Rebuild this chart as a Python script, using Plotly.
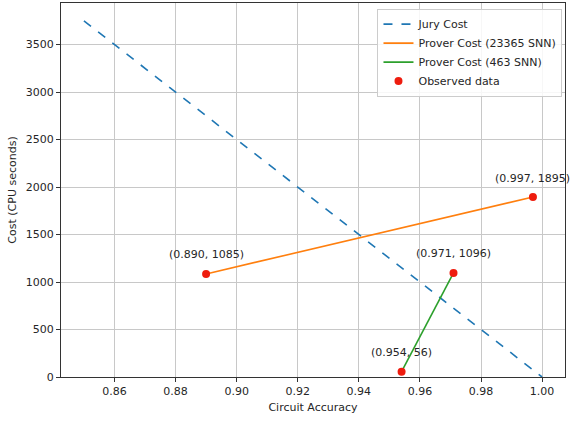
import plotly.graph_objects as go

# Data
jury_x = [0.85, 1.00]
jury_y = [3750, 0]
prover_big_x = [0.890, 0.997]
prover_big_y = [1085, 1895]
prover_small_x = [0.954, 0.971]
prover_small_y = [56, 1096]
obs_x = [0.890, 0.997, 0.954, 0.971]
obs_y = [1085, 1895, 56, 1096]
obs_labels = ["(0.890, 1085)", "(0.997, 1895)", "(0.954, 56)", "(0.971, 1096)"]
x_ticks = [0.86, 0.88, 0.90, 0.92, 0.94, 0.96, 0.98, 1.00]
y_ticks = [0, 500, 1000, 1500, 2000, 2500, 3000, 3500]

FONT = "DejaVu Sans"
TXT = "#262626"

fig = go.Figure()
fig.add_trace(go.Scatter(x=jury_x, y=jury_y, mode="lines", name="Jury Cost",
                         line=dict(color="#1f77b4", width=1.6, dash="dash")))
fig.add_trace(go.Scatter(x=prover_big_x, y=prover_big_y, mode="lines",
                         name="Prover Cost (23365 SNN)",
                         line=dict(color="#ff7f0e", width=1.6)))
fig.add_trace(go.Scatter(x=prover_small_x, y=prover_small_y, mode="lines",
                         name="Prover Cost (463 SNN)",
                         line=dict(color="#2ca02c", width=1.6)))
fig.add_trace(go.Scatter(x=obs_x, y=obs_y, mode="markers", name="Observed data",
                         marker=dict(color="#ee1c0e", size=8)))

for x, y, t in zip(obs_x, obs_y, obs_labels):
    fig.add_annotation(x=x, y=y, text=t, showarrow=False, yshift=19,
                       font=dict(family=FONT, size=11, color=TXT))

axis_common = dict(showline=True, linecolor="#333", linewidth=1, mirror=True,
                   showgrid=True, gridcolor="#c8c8c8", gridwidth=1,
                   ticks="outside", ticklen=4, tickcolor="#333",
                   tickfont=dict(family=FONT, size=11, color=TXT),
                   zeroline=False, automargin=False)

fig.update_xaxes(range=[0.8425, 1.0075], tickvals=x_ticks,
                 ticktext=[f"{v:.2f}" for v in x_ticks],
                 title=dict(text="Circuit Accuracy", standoff=6,
                            font=dict(family=FONT, size=11, color=TXT)),
                 **axis_common)
fig.update_yaxes(range=[0, 3937.5], tickvals=y_ticks,
                 title=dict(text="Cost (CPU seconds)", standoff=6,
                            font=dict(family=FONT, size=11, color=TXT)),
                 **axis_common)

fig.update_layout(
    width=570, height=421,
    margin=dict(l=61, r=5, t=3, b=44, autoexpand=False),
    paper_bgcolor="white", plot_bgcolor="white",
    font=dict(family=FONT, size=11, color=TXT),
    legend=dict(x=0.995, y=0.985, xanchor="right", yanchor="top",
                bgcolor="rgba(255,255,255,0.85)", bordercolor="#cccccc",
                borderwidth=1, font=dict(family=FONT, size=11, color=TXT),
                itemwidth=30, tracegroupgap=0),
    showlegend=True,
)

fig.write_html("out.html", config={"displayModeBar": False},
               post_script="document.body.style.margin='0';document.body.style.padding='0';")
